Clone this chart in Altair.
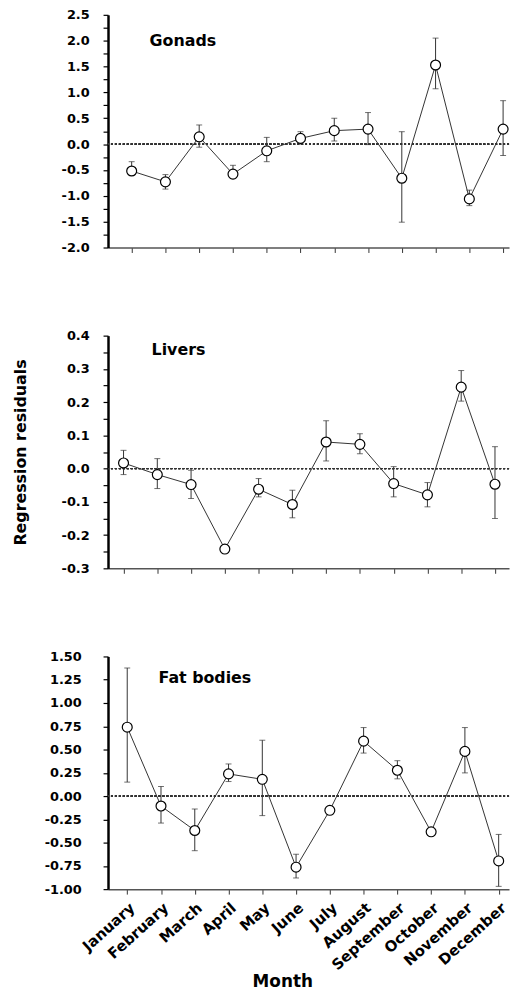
import altair as alt
import pandas as pd

months = ["January", "February", "March", "April", "May", "June", "July",
          "August", "September", "October", "November", "December"]

gon_mean = [-0.52, -0.73, 0.14, -0.58, -0.13, 0.11, 0.26, 0.29, -0.66, 1.53, -1.06, 0.29]
gon_upper = [-0.34, -0.59, 0.37, -0.41, 0.13, 0.24, 0.50, 0.61, 0.24, 2.05, -0.89, 0.84]
gon_lower = [-0.60, -0.87, -0.06, -0.62, -0.34, 0.00, 0.06, -0.01, -1.51, 1.07, -1.19, -0.22]

liv_mean = [0.017, -0.018, -0.048, -0.242, -0.062, -0.108, 0.080, 0.073, -0.045, -0.079, 0.245, -0.047]
liv_upper = [0.055, 0.030, -0.005, -0.235, -0.030, -0.065, 0.144, 0.105, 0.006, -0.042, 0.295, 0.066]
liv_lower = [-0.018, -0.060, -0.090, -0.250, -0.085, -0.148, 0.023, 0.045, -0.085, -0.115, 0.203, -0.150]

fat_mean = [0.74, -0.107, -0.37, 0.238, 0.18, -0.764, -0.153, 0.59, 0.277, -0.384, 0.48, -0.697]
fat_upper = [1.376, 0.103, -0.139, 0.345, 0.60, -0.625, -0.12, 0.736, 0.38, -0.35, 0.736, -0.412]
fat_lower = [0.15, -0.29, -0.587, 0.156, -0.21, -0.88, -0.19, 0.462, 0.185, -0.42, 0.249, -0.97]

gon_ticks = [-2.0, -1.75, -1.5, -1.25, -1.0, -0.75, -0.5, -0.25, 0.0, 0.25, 0.5, 0.75,
             1.0, 1.25, 1.5, 1.75, 2.0, 2.25, 2.5]
liv_ticks = [-0.3, -0.25, -0.2, -0.15, -0.1, -0.05, 0.0, 0.05, 0.1, 0.15, 0.2, 0.25,
             0.3, 0.35, 0.4]
fat_ticks = [-1.0, -0.75, -0.5, -0.25, 0.0, 0.25, 0.5, 0.75, 1.0, 1.25, 1.5]

FONT = "DejaVu Sans"
YTITLE = "Regression residuals"
W = 405


def panel(mean, upper, lower, domain, ticks, label_expr, name, show_title,
          label_pad, pad, align, name_x, name_y, bottom=False):
    df = pd.DataFrame({"month": months, "mean": mean, "upper": upper, "lower": lower})
    ykw = dict(
        values=ticks, labelExpr=label_expr,
        labelFont=FONT, labelFontSize=13, labelFontWeight="bold", labelColor="black",
        labelPadding=label_pad, tickSize=5, tickColor="black", tickWidth=1.2,
        domainColor="black", domainWidth=2.5, grid=False,
    )
    if show_title:
        ykw.update(title=YTITLE, titleFont=FONT, titleFontSize=16, titleFontWeight="bold",
                   titleColor="black", titlePadding=4, minExtent=76, maxExtent=76)
    else:
        ykw.update(title=None)
    yax = alt.Axis(**ykw)
    if bottom:
        xax = alt.Axis(
            title="Month", titleFont=FONT, titleFontSize=17, titleFontWeight="bold",
            titleColor="black", titleX=176, titleY=98, titleBaseline="alphabetic",
            titleAlign="center",
            labelAngle=-42, labelFont=FONT, labelFontSize=15, labelFontWeight="bold",
            labelColor="black", labelPadding=6, tickSize=5, tickColor="#333",
            domainColor="#555", domainWidth=1.5, grid=False,
        )
    else:
        xax = alt.Axis(
            title=None, labels=False, tickSize=5, tickColor="#333",
            domainColor="#555", domainWidth=1.5, grid=False,
        )
    yscale = alt.Scale(domain=domain, nice=False, zero=False)
    x = alt.X("month:O", sort=months,
              scale=alt.Scale(type="point", padding=pad, align=align), axis=xax)
    base = alt.Chart(df)
    zero = base.mark_rule(color="#333", strokeWidth=1, strokeDash=[2, 2]).encode(
        y=alt.YDatum(0, scale=yscale, axis=yax)
    )
    err = base.mark_rule(color="#333", strokeWidth=1).encode(
        x=x, y=alt.Y("lower:Q", scale=yscale, axis=yax), y2="upper:Q"
    )
    cap_hi = base.mark_tick(color="#333", size=6, thickness=1).encode(
        x=x, y=alt.Y("upper:Q", scale=yscale, axis=yax)
    )
    cap_lo = base.mark_tick(color="#333", size=6, thickness=1).encode(
        x=x, y=alt.Y("lower:Q", scale=yscale, axis=yax)
    )
    line = base.mark_line(color="#333", strokeWidth=1).encode(
        x=x, y=alt.Y("mean:Q", scale=yscale, axis=yax)
    )
    pts = base.mark_point(shape="circle", filled=True, fill="white", stroke="black",
                          strokeWidth=1.2, size=100, opacity=1).encode(
        x=x, y=alt.Y("mean:Q", scale=yscale, axis=yax)
    )
    label = alt.Chart(pd.DataFrame({"t": [name]})).mark_text(
        align="left", baseline="alphabetic", font=FONT, fontSize=16,
        fontWeight="bold", color="black"
    ).encode(text="t:N", x=alt.value(name_x), y=alt.value(name_y))
    return alt.layer(zero, err, cap_hi, cap_lo, line, pts, label).properties(
        width=W, height=235
    )


expr_top = ("abs(datum.value*2 - round(datum.value*2)) < 0.001 ? "
            "(datum.value < 0 ? '-' : '') + format(abs(datum.value), '.1f') : ''")
expr_mid = ("abs(datum.value*10 - round(datum.value*10)) < 0.001 ? "
            "(datum.value < -0.0001 ? '-' : '') + format(abs(datum.value), '.1f') : ''")
expr_bot = "(datum.value < 0 ? '-' : '') + format(abs(datum.value), '.2f')"

top = panel(gon_mean, gon_upper, gon_lower, [-2.0, 2.5], gon_ticks, expr_top, "Gonads",
            False, 14, 0.438, 0.80, 42, 31)
mid = panel(liv_mean, liv_upper, liv_lower, [-0.3, 0.4], liv_ticks, expr_mid, "Livers",
            True, 14, 0.438, 0.525, 44, 20)
bot = panel(fat_mean, fat_upper, fat_lower, [-1.0, 1.5], fat_ticks, expr_bot, "Fat bodies",
            False, 22, 0.438, 0.65, 51, 27, bottom=True)

chart = alt.vconcat(top, mid, bot, spacing=76).properties(
    padding={"left": 5, "top": -4, "right": 0, "bottom": 0}
).configure_view(stroke=None)

chart.save("out.html", embed_options={"renderer": "svg", "actions": False})
